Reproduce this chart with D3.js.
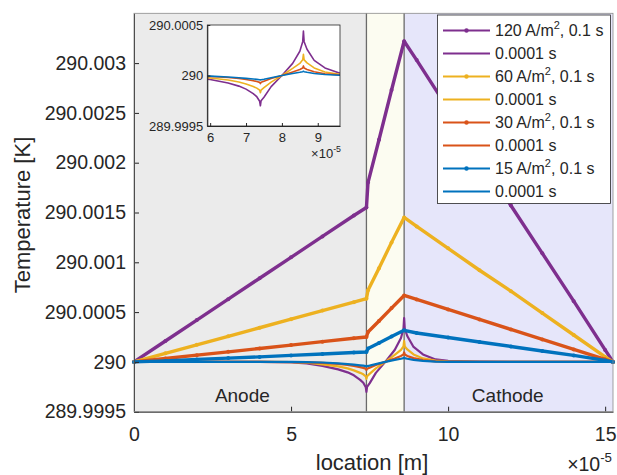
<!DOCTYPE html>
<html>
<head>
<meta charset="utf-8">
<script src="https://cdn.jsdelivr.net/npm/d3@7"></script>
<style>
  body { margin: 0; background: #fff; }
  text { font-family: "Liberation Sans", Arial, sans-serif; fill: #262626; }
</style>
</head>
<body>
<svg id="chart" width="617" height="475"></svg>
<script>
// location in units of 1e-5 m, temperature rise in units of 1e-4 K above T0
const T0 = 290;
const xLong = [0, 1, 2, 3, 4, 5, 6, 7, 7.4, 7.45, 7.8, 8.2, 8.6, 9, 10, 11, 12, 13, 14, 15, 15.25];
const rise120Long = [0, 2.1, 4.2, 6.3, 8.4, 10.5, 12.6, 14.7, 15.5, 18.0, 22.3, 27.3, 32.2, 30.3, 25.4, 20.6, 15.7, 10.9, 6.1, 1.2, 0];
const rise60Long  = [0, 0.86, 1.72, 2.57, 3.43, 4.29, 5.15, 6.0, 6.35, 7.2, 9.4, 12.0, 14.5, 13.6, 11.4, 9.2, 7.1, 4.9, 2.7, 0.5, 0];
const rise30Long  = [0, 0.34, 0.68, 1.01, 1.35, 1.69, 2.03, 2.37, 2.5, 3.0, 4.1, 5.4, 6.67, 6.27, 5.27, 4.26, 3.26, 2.26, 1.25, 0.25, 0];
const rise15Long  = [0, 0.1, 0.25, 0.38, 0.5, 0.65, 0.8, 0.95, 1.0, 1.35, 1.9, 2.55, 3.17, 2.9, 2.45, 2.0, 1.55, 1.1, 0.65, 0.15, 0];

const xShort = [0, 4, 5, 5.5, 6, 6.5, 6.8, 7.0, 7.2, 7.3, 7.38, 7.4, 7.42, 7.5, 7.7, 8.0, 8.3, 8.5, 8.58, 8.6, 8.62, 8.7, 8.9, 9.2, 9.6, 10, 11, 12, 15.25];
const rise120Short = [0, 0, -0.05, -0.15, -0.4, -0.75, -1.05, -1.35, -1.8, -2.1, -2.55, -3.0, -2.5, -2.15, -1.1, 0, 1.2, 2.4, 3.35, 4.4, 3.35, 2.6, 1.5, 0.75, 0.25, 0.1, 0.02, 0, 0];
const rise60Short  = [0, 0, -0.03, -0.08, -0.25, -0.45, -0.65, -0.85, -1.1, -1.25, -1.45, -1.7, -1.45, -1.2, -0.65, 0, 0.7, 1.2, 1.55, 2.1, 1.55, 1.25, 0.75, 0.35, 0.12, 0.05, 0, 0, 0];
const rise30Short  = [0, 0, -0.01, -0.04, -0.1, -0.2, -0.3, -0.4, -0.52, -0.6, -0.68, -0.8, -0.68, -0.58, -0.3, 0, 0.35, 0.6, 0.75, 0.95, 0.75, 0.6, 0.38, 0.18, 0.06, 0.02, 0, 0, 0];
const rise15Short  = [0, 0, 0, -0.02, -0.06, -0.15, -0.22, -0.28, -0.35, -0.38, -0.42, -0.45, -0.42, -0.38, -0.22, 0, 0.2, 0.32, 0.38, 0.42, 0.38, 0.32, 0.2, 0.1, 0.03, 0.01, 0, 0, 0];

const currents = ['120', '60', '30', '15'];
const colors = ['#7E2F8E', '#EDB120', '#D95319', '#0072BD'];
const longRises = [rise120Long, rise60Long, rise30Long, rise15Long];
const shortRises = [rise120Short, rise60Short, rise30Short, rise15Short];

const regions = [
  { name: 'Anode', x0: 0, x1: 7.4, fill: '#ebebeb', labelX: 3.45 },
  { name: '', x0: 7.4, x1: 8.6, fill: '#fcfcf1', labelX: null },
  { name: 'Cathode', x0: 8.6, x1: 15.25, fill: '#e6e6fa', labelX: 11.9 }
];
const interfaces = [7.4, 8.6];

const xTicks = [0, 5, 10, 15];
const yTicks = [289.9995, 290, 290.0005, 290.001, 290.0015, 290.002, 290.0025, 290.003];
const insetXTicks = [6, 7, 8, 9];
const insetYTicks = [289.9995, 290, 290.0005];

// series in plotting order (legend order)
const series = [];
currents.forEach((c, i) => {
  series.push({ current: c, time: '0.1 s', color: colors[i], marker: true,
    pts: xLong.map((x, k) => ({ x: x, t: T0 + longRises[i][k] * 1e-4 })) });
  series.push({ current: null, time: '0.0001 s', color: colors[i], marker: false,
    pts: xShort.map((x, k) => ({ x: x, t: T0 + shortRises[i][k] * 1e-4 })) });
});

const svg = d3.select('#chart');
const fmt = d => String(+d.toFixed(4));

const x = d3.scaleLinear().domain([0, 15.25]).range([134, 613]);
const y = d3.scaleLinear().domain([289.9995, 290.0035]).range([411.7, 13.3]);

// region backgrounds
svg.selectAll('rect.region')
  .data(regions)
  .enter().append('rect')
  .attr('class', 'region')
  .attr('x', d => x(d.x0))
  .attr('y', y.range()[1])
  .attr('width', d => x(d.x1) - x(d.x0))
  .attr('height', y.range()[0] - y.range()[1])
  .attr('fill', d => d.fill);

svg.selectAll('line.iface')
  .data(interfaces)
  .enter().append('line')
  .attr('x1', d => x(d)).attr('x2', d => x(d))
  .attr('y1', y.range()[1]).attr('y2', y.range()[0])
  .attr('stroke', '#6a6a6a').attr('stroke-width', 1.3);

svg.selectAll('text.region')
  .data(regions.filter(d => d.name))
  .enter().append('text')
  .attr('x', d => x(d.labelX))
  .attr('y', 401.5)
  .attr('text-anchor', 'middle')
  .attr('font-size', 19)
  .text(d => d.name);

// data lines
const line = d3.line().x(d => x(d.x)).y(d => y(d.t));
const plot = svg.append('g');
series.forEach(s => {
  plot.append('path')
    .datum(s.pts)
    .attr('d', line)
    .attr('fill', 'none')
    .attr('stroke', s.color)
    .attr('stroke-width', s.marker ? 3.4 : 2.2)
    .attr('stroke-linejoin', 'round');
  if (s.marker) {
    plot.selectAll(null)
      .data(s.pts)
      .enter().append('circle')
      .attr('cx', d => x(d.x))
      .attr('cy', d => y(d.t))
      .attr('r', 2)
      .attr('fill', s.color);
  }
});

// axes
const xAxis = svg.append('g')
  .attr('transform', `translate(0,${y.range()[0]})`)
  .call(d3.axisBottom(x).tickValues(xTicks).tickSize(-5).tickPadding(15).tickSizeOuter(0));
const yAxis = svg.append('g')
  .attr('transform', `translate(${x.range()[0]},0)`)
  .call(d3.axisLeft(y).tickValues(yTicks).tickFormat(fmt).tickSize(-5).tickPadding(8).tickSizeOuter(0));
[xAxis, yAxis].forEach(a => {
  a.selectAll('text').attr('font-size', 19.5).style('font-family', '"Liberation Sans", Arial, sans-serif').attr('fill', '#262626');
  a.selectAll('line').attr('stroke', '#262626');
  a.select('.domain').attr('stroke', '#262626');
});
svg.append('rect')
  .attr('x', x.range()[0]).attr('y', y.range()[1])
  .attr('width', x.range()[1] - x.range()[0])
  .attr('height', y.range()[0] - y.range()[1])
  .attr('fill', 'none').attr('stroke', '#8a8a8a').attr('stroke-width', 0.8);

svg.append('text')
  .attr('x', 372).attr('y', 470)
  .attr('text-anchor', 'middle').attr('font-size', 22)
  .text('location [m]');
svg.append('text')
  .attr('transform', 'translate(30,215) rotate(-90)')
  .attr('text-anchor', 'middle').attr('font-size', 22)
  .text('Temperature [K]');

function exponentLabel(g, ex, ey, size) {
  const t = g.append('text').attr('x', ex).attr('y', ey).attr('text-anchor', 'end').attr('font-size', size);
  t.append('tspan').text('\u00d710');
  t.append('tspan').attr('dy', -size * 0.45).attr('font-size', size * 0.68).text('-5');
}
exponentLabel(svg, 612, 471, 19.5);

// inset
const ix = d3.scaleLinear().domain([5.92, 9.62]).range([207.3, 340]);
const iy = d3.scaleLinear().domain([289.9995, 290.0005]).range([126, 25]);
const inset = svg.append('g');
inset.append('rect')
  .attr('x', ix.range()[0]).attr('y', iy.range()[1])
  .attr('width', ix.range()[1] - ix.range()[0])
  .attr('height', iy.range()[0] - iy.range()[1])
  .attr('fill', '#fff');
svg.append('clipPath').attr('id', 'insetClip')
  .append('rect')
  .attr('x', ix.range()[0]).attr('y', iy.range()[1])
  .attr('width', ix.range()[1] - ix.range()[0])
  .attr('height', iy.range()[0] - iy.range()[1]);
const iline = d3.line().x(d => ix(d.x)).y(d => iy(d.t));
const ilines = inset.append('g').attr('clip-path', 'url(#insetClip)');
series.filter(s => !s.marker).forEach(s => {
  ilines.append('path')
    .datum(s.pts)
    .attr('d', iline)
    .attr('fill', 'none')
    .attr('stroke', s.color)
    .attr('stroke-width', 1.6)
    .attr('stroke-linejoin', 'round');
});
const ixAxis = inset.append('g')
  .attr('transform', `translate(0,${iy.range()[0]})`)
  .call(d3.axisBottom(ix).tickValues(insetXTicks).tickFormat(d => String(d)).tickSize(-3).tickPadding(7).tickSizeOuter(0));
const iyAxis = inset.append('g')
  .attr('transform', `translate(${ix.range()[0]},0)`)
  .call(d3.axisLeft(iy).tickValues(insetYTicks).tickFormat(fmt).tickSize(-3).tickPadding(4).tickSizeOuter(0));
[ixAxis, iyAxis].forEach(a => {
  a.selectAll('text').attr('font-size', 13).style('font-family', '"Liberation Sans", Arial, sans-serif').attr('fill', '#262626');
  a.selectAll('line').attr('stroke', '#262626');
  a.select('.domain').attr('stroke', '#262626');
});
inset.append('rect')
  .attr('x', ix.range()[0]).attr('y', iy.range()[1])
  .attr('width', ix.range()[1] - ix.range()[0])
  .attr('height', iy.range()[0] - iy.range()[1])
  .attr('fill', 'none').attr('stroke', '#262626').attr('stroke-width', 0.8);
exponentLabel(inset, 341, 158, 13);

// legend
const lg = svg.append('g');
const rowY = i => 30.5 + i * 23;
lg.append('rect')
  .attr('x', 437.5).attr('y', 15)
  .attr('width', 173).attr('height', 188.5)
  .attr('fill', '#fff').attr('stroke', '#262626').attr('stroke-width', 0.8);
series.forEach((s, i) => {
  lg.append('line')
    .attr('x1', 443).attr('x2', 490)
    .attr('y1', rowY(i)).attr('y2', rowY(i))
    .attr('stroke', s.color).attr('stroke-width', 2.2);
  if (s.marker) {
    lg.append('circle').attr('cx', 466.5).attr('cy', rowY(i)).attr('r', 2.2).attr('fill', s.color);
  }
  const t = lg.append('text')
    .attr('x', 495).attr('y', rowY(i) + 5.8)
    .attr('font-size', 16);
  if (s.current) {
    t.append('tspan').text(`${s.current} A/m`);
    t.append('tspan').attr('dy', -7).attr('font-size', 11).text('2');
    t.append('tspan').attr('dy', 7).text(`, ${s.time}`);
  } else {
    t.text(s.time);
  }
});
</script>
</body>
</html>
